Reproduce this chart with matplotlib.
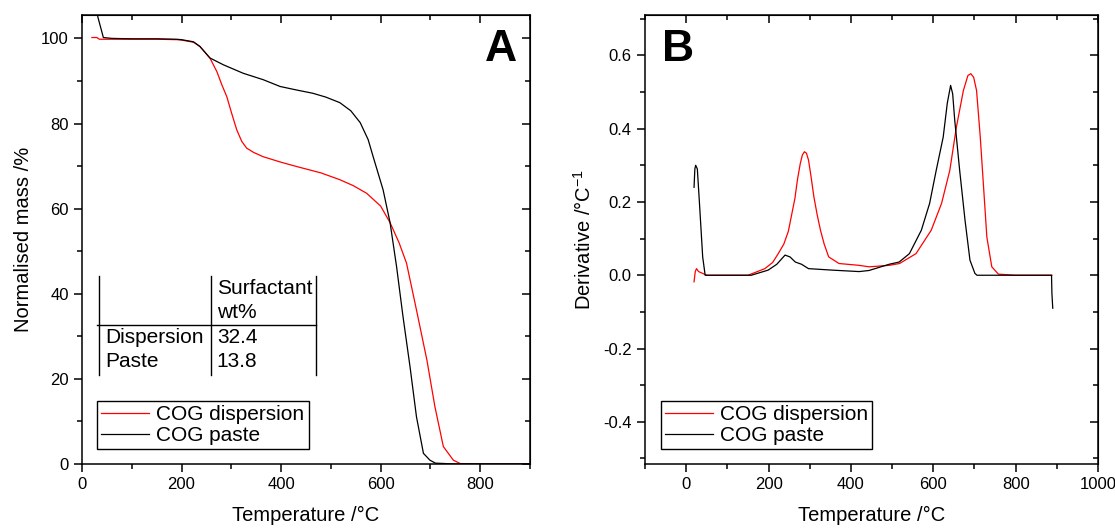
import numpy as np
import matplotlib
matplotlib.use("Agg")
import matplotlib.pyplot as plt

plt.rcParams['font.family'] = ['Liberation Sans', 'DejaVu Sans']
plt.rcParams['mathtext.fontset'] = 'custom'
plt.rcParams['mathtext.rm'] = 'Liberation Sans'
plt.rcParams['mathtext.it'] = 'Liberation Sans'

# ---- panel A : normalised mass (%) vs temperature ----
t_paste_A = [25, 32, 43, 60, 100, 150, 190, 200, 224, 237, 257, 284, 324, 364, 398, 430,
             464, 490, 518, 540, 559, 575, 585, 595, 605, 619, 632, 645, 659, 672,
             686, 699, 710, 750, 800, 850, 900]
m_paste_A = [110, 105, 100.2, 100, 99.9, 99.9, 99.8, 99.7, 99.2, 98.1, 95.4, 93.8, 91.8,
             90.3, 88.7, 87.9, 87.1, 86.2, 84.9, 83.0, 80.2, 76.2, 72.2, 68.3, 64.4, 56.7,
             46.4, 34.6, 22.9, 11.1, 2.5, 0.9, 0.2, 0, 0, 0, 0]

t_disp_A = [20, 30, 35, 60, 100, 150, 190, 200, 224, 237, 257, 271, 281, 291, 301, 311,
            321, 331, 345, 364, 400, 431, 480, 518, 545, 572, 600, 619, 637, 652, 672,
            693, 709, 726, 746, 760, 800, 900]
m_disp_A = [100.2, 100.2, 99.8, 99.8, 99.8, 99.8, 99.7, 99.6, 99.1, 98.1, 95.4, 92.2, 89.1,
            86.3, 82.3, 78.5, 75.8, 74.2, 73.2, 72.2, 70.9, 69.9, 68.4, 66.8, 65.4, 63.6,
            60.6, 56.7, 52.0, 47.2, 36.2, 24.4, 13.5, 4.1, 0.9, 0.1, 0, 0]

# ---- panel B : derivative vs temperature ----
t_paste_B = [19, 21, 23, 27, 32, 40, 46, 100, 158, 199, 220, 240, 252, 265, 280, 297,
             354, 420, 444, 493, 517, 542, 571, 591, 607, 624, 634, 642, 647, 652, 664,
             677, 689, 701, 706, 750, 800, 850, 887, 888, 890]
d_paste_B = [0.24, 0.29, 0.30, 0.29, 0.20, 0.05, 0.0, 0.0, 0.0, 0.014, 0.03, 0.055, 0.05,
             0.036, 0.03, 0.018, 0.014, 0.01, 0.013, 0.03, 0.036, 0.059, 0.123, 0.196,
             0.286, 0.377, 0.47, 0.518, 0.495, 0.423, 0.286, 0.15, 0.041, 0.005, 0.0,
             0.0, 0.0, 0.0, 0.0, -0.05, -0.09]

t_disp_B = [19, 22, 25, 30, 40, 50, 100, 150, 191, 210, 224, 237, 248, 264, 270, 277, 282,
            287, 292, 297, 303, 310, 318, 326, 335, 346, 371, 420, 444, 493, 518, 558,
            595, 620, 640, 656, 673, 684, 691, 698, 705, 714, 722, 730, 742, 758, 800,
            850, 888]
d_disp_B = [-0.018, 0.01, 0.018, 0.01, 0.005, 0.0, 0.0, 0.0, 0.018, 0.035, 0.06, 0.085,
            0.12, 0.21, 0.26, 0.305, 0.328, 0.337, 0.333, 0.314, 0.27, 0.214, 0.165,
            0.123, 0.085, 0.05, 0.032, 0.027, 0.023, 0.027, 0.032, 0.059, 0.123, 0.196,
            0.286, 0.404, 0.504, 0.545, 0.55, 0.54, 0.504, 0.377, 0.241, 0.104, 0.023,
            0.003, 0.0, 0.0, 0.0]

series_labels = ['COG dispersion', 'COG paste']
table_rows = ['Dispersion', 'Paste']
table_vals = ['32.4', '13.8']


def style_axes(ax, xmaj, xmin, ymaj, ymin):
    for s in ax.spines.values():
        s.set_linewidth(1.1)
    ax.xaxis.set_major_locator(matplotlib.ticker.MultipleLocator(xmaj))
    ax.xaxis.set_minor_locator(matplotlib.ticker.MultipleLocator(xmin))
    ax.yaxis.set_major_locator(matplotlib.ticker.MultipleLocator(ymaj))
    ax.yaxis.set_minor_locator(matplotlib.ticker.MultipleLocator(ymin))
    ax.tick_params(which='major', direction='out', length=6, width=1.1, labelsize=12)
    ax.tick_params(which='minor', direction='out', length=3.5, width=1.1)
    top = ax.secondary_xaxis('top')
    top.xaxis.set_major_locator(matplotlib.ticker.MultipleLocator(xmaj))
    top.xaxis.set_minor_locator(matplotlib.ticker.MultipleLocator(xmin))
    top.tick_params(which='major', direction='in', length=6, width=1.1, labeltop=False)
    top.tick_params(which='minor', direction='in', length=3.5, width=1.1)
    right = ax.secondary_yaxis('right')
    right.yaxis.set_major_locator(matplotlib.ticker.MultipleLocator(ymaj))
    right.yaxis.set_minor_locator(matplotlib.ticker.MultipleLocator(ymin))
    right.tick_params(which='major', direction='in', length=6, width=1.1, labelright=False)
    right.tick_params(which='minor', direction='in', length=3.5, width=1.1)


fig = plt.figure(figsize=(11.15, 5.31), dpi=100)
axA = fig.add_axes([0.0735, 0.1262, 0.4018, 0.8448])
axB = fig.add_axes([0.5785, 0.1262, 0.4063, 0.8448])

# panel A
axA.plot(t_disp_A, m_disp_A, color='red', lw=0.9, label=series_labels[0])
axA.plot(t_paste_A, m_paste_A, color='black', lw=0.9, label=series_labels[1])
axA.set_xlim(0, 900)
axA.set_ylim(0, 105.4)
style_axes(axA, 200, 100, 20, 10)
axA.set_xlabel('Temperature /°C', fontsize=14.5, labelpad=10)
axA.set_ylabel('Normalised mass /%', fontsize=14.5, labelpad=6)
axA.text(0.935, 0.923, 'A', transform=axA.transAxes, fontsize=32, fontweight='bold',
         ha='center', va='center')
axA.legend(loc='lower left', bbox_to_anchor=(0.0335, 0.033), fontsize=15,
           fancybox=False, edgecolor='black', framealpha=1, handlelength=2.3,
           handletextpad=0.35, labelspacing=0.1, borderpad=0.2, borderaxespad=0)
axA.get_legend().get_frame().set_linewidth(1.0)

# surfactant table
tr = axA.transAxes
for xv in [0.038, 0.287, 0.522]:
    axA.plot([xv, xv], [0.198, 0.419], color='black', lw=1.0, transform=tr)
axA.plot([0.0335, 0.522], [0.310, 0.310], color='black', lw=1.0, transform=tr)
axA.text(0.301, 0.392, 'Surfactant', transform=tr, fontsize=15, va='center')
axA.text(0.301, 0.337, 'wt%', transform=tr, fontsize=15, va='center')
for name, val, yv in zip(table_rows, table_vals, [0.281, 0.228]):
    axA.text(0.051, yv, name, transform=tr, fontsize=15, va='center')
    axA.text(0.301, yv, val, transform=tr, fontsize=15, va='center')

# panel B
axB.plot(t_disp_B, d_disp_B, color='red', lw=0.9, label=series_labels[0])
axB.plot(t_paste_B, d_paste_B, color='black', lw=0.9, label=series_labels[1])
axB.set_xlim(-100, 1000)
axB.set_ylim(-0.515, 0.709)
style_axes(axB, 200, 100, 0.2, 0.1)
axB.yaxis.set_major_formatter(matplotlib.ticker.FormatStrFormatter('%.1f'))
axB.set_xlabel('Temperature /°C', fontsize=14.5, labelpad=10)
axB.set_ylabel(r'Derivative /°C$^{\mathregular{-1}}$', fontsize=14.5, labelpad=6)
axB.text(0.074, 0.923, 'B', transform=axB.transAxes, fontsize=32, fontweight='bold',
         ha='center', va='center')
axB.legend(loc='lower left', bbox_to_anchor=(0.0347, 0.033), fontsize=15,
           fancybox=False, edgecolor='black', framealpha=1, handlelength=2.3,
           handletextpad=0.35, labelspacing=0.1, borderpad=0.2, borderaxespad=0)
axB.get_legend().get_frame().set_linewidth(1.0)

fig.savefig('out.png', dpi=100)
